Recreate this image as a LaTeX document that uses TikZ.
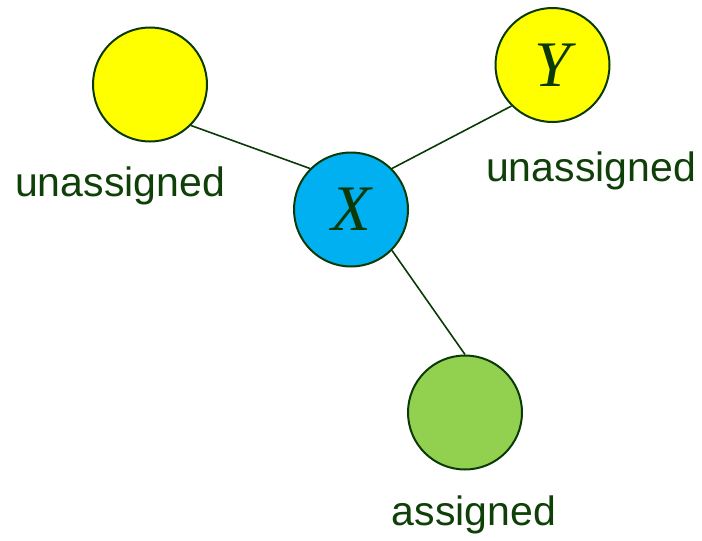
\documentclass[tikz,border=0pt]{standalone}
\usepackage{fontspec}
\setmainfont{Liberation Sans}
\newfontfamily\varfont{Liberation Serif}
\definecolor{edgegreen}{HTML}{0B3A08}
\definecolor{labelgreen}{HTML}{0E4008}
\definecolor{vyellow}{HTML}{FFFF00}
\definecolor{vblue}{HTML}{00B0F0}
\definecolor{vgreen}{HTML}{92D050}
\begin{document}
\begin{tikzpicture}[x=1pt,y=-1pt,
  vertex/.style={circle,draw=edgegreen,line width=2pt,minimum size=114pt,inner sep=0pt,
    font=\fontsize{65}{70}\selectfont\varfont\itshape,text=edgegreen},
  link/.style={draw=edgegreen,line width=1.6pt},
  tag/.style={anchor=base,inner sep=0pt,text=labelgreen,font=\fontsize{41}{48}\selectfont}]
\useasboundingbox (0,0) rectangle (702,541);
% vertices
\node[vertex,fill=vyellow] (left) at (150,84.5) {};
\node[vertex,fill=vyellow] (y) at (552.5,65) {Y};
\node[vertex,fill=vblue] (x) at (351,209.5) {X};
\node[vertex,fill=vgreen] (g) at (465,412.5) {};
% edges, joining the rims at fixed angles
\draw[link] (left.-45) -- (x.135);
\draw[link] (x.45) -- (y.-135);
\draw[link] (x.-45) -- (g.north);
% labels
\node[tag] (lleft) at (120,196) {unassigned};
\node[tag] (ly) at (591,181) {unassigned};
\node[tag] (lg) at (474,525) {assigned};
\end{tikzpicture}
\end{document}
